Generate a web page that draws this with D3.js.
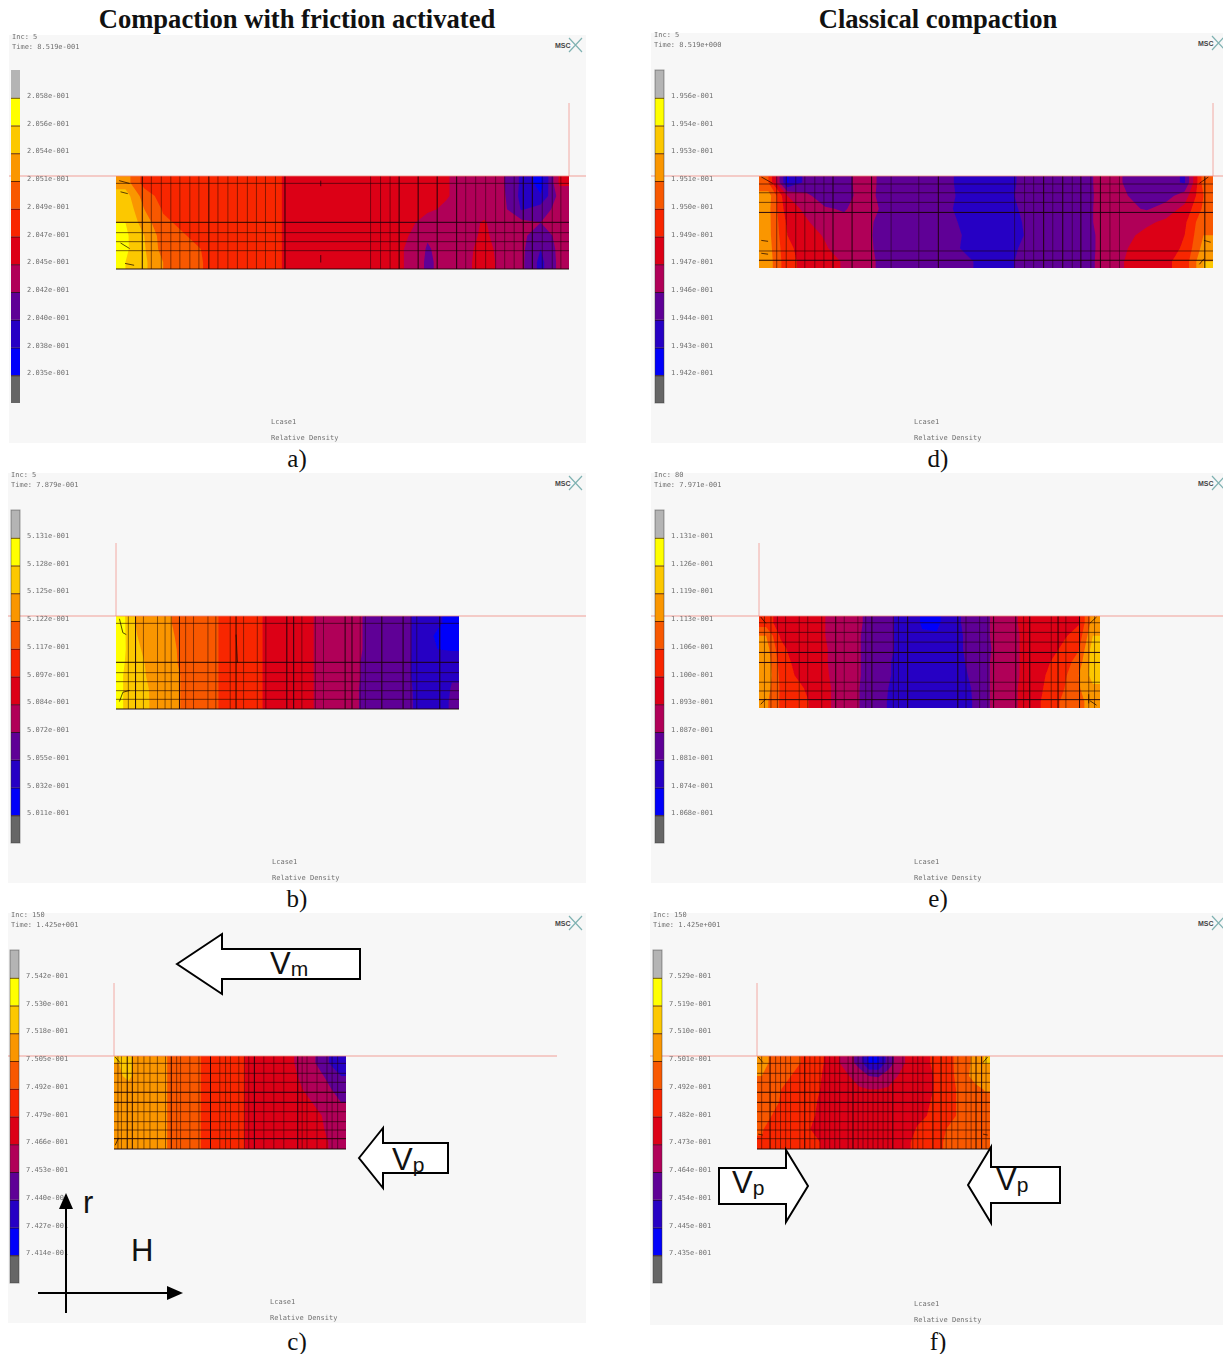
<!DOCTYPE html>
<html>
<head>
<meta charset="utf-8">
<style>
  html, body { margin: 0; background: #fff; }
  svg { display: block; }
  .axis path { display: none; }
  .axis text { font-family: "DejaVu Sans Mono", monospace; font-size: 7px; fill: #707070; }
  .axis line { stroke: #2a0a00; stroke-opacity: 0.7; }
</style>
<script src="https://cdn.jsdelivr.net/npm/d3@7"></script>
</head>
<body>
<svg id="chart" width="1223" height="1354"></svg>
<script>
// legend levels, top to bottom of the colour bar: index = contour level
const levelColors = ['#666666', '#0000fa', '#2800c4', '#5e0096', '#b00058', '#dc0016',
  '#f82800', '#f85800', '#fa9600', '#fcc800', '#ffff00', '#b4b4b4'];

const titles = ['Compaction with friction activated', 'Classical compaction'];
const captions = ['a)', 'b)', 'c)', 'd)', 'e)', 'f)'];
const incLabels = ['Inc:  5', 'Inc:  5', 'Inc:  150', 'Inc:  5', 'Inc:  80', 'Inc:  150'];
const timeLabels = ['Time:  8.519e-001', 'Time:  7.879e-001', 'Time:  1.425e+001',
  'Time:  8.519e+000', 'Time:  7.971e-001', 'Time:  1.425e+001'];

// colour bar labels
const ticksA = ['2.058e-001', '2.056e-001', '2.054e-001', '2.051e-001', '2.049e-001', '2.047e-001', '2.045e-001', '2.042e-001', '2.040e-001', '2.038e-001', '2.035e-001'];
const ticksB = ['5.131e-001', '5.128e-001', '5.125e-001', '5.122e-001', '5.117e-001', '5.097e-001', '5.084e-001', '5.072e-001', '5.055e-001', '5.032e-001', '5.011e-001'];
const ticksC = ['7.542e-001', '7.530e-001', '7.518e-001', '7.505e-001', '7.492e-001', '7.479e-001', '7.466e-001', '7.453e-001', '7.440e-001', '7.427e-001', '7.414e-001'];
const ticksD = ['1.956e-001', '1.954e-001', '1.953e-001', '1.951e-001', '1.950e-001', '1.949e-001', '1.947e-001', '1.946e-001', '1.944e-001', '1.943e-001', '1.942e-001'];
const ticksE = ['1.131e-001', '1.126e-001', '1.119e-001', '1.113e-001', '1.106e-001', '1.100e-001', '1.093e-001', '1.087e-001', '1.081e-001', '1.074e-001', '1.068e-001'];
const ticksF = ['7.529e-001', '7.519e-001', '7.510e-001', '7.501e-001', '7.492e-001', '7.482e-001', '7.473e-001', '7.464e-001', '7.454e-001', '7.445e-001', '7.435e-001'];

// contour level, 24 columns x 7 rows, top row first
const fieldA = [
  [8.5, 6.6, 6.5, 6.5, 6.5, 6.5, 6.4, 6.3, 6.2, 5.5, 5.5, 5.5, 5.5, 5.5, 5.5, 5.4, 5.4, 5.1, 4.5, 4.4, 4.1, 2.8, 1.5, 5.2],
  [9.5, 7.5, 6.6, 6.5, 6.5, 6.5, 6.4, 6.3, 6.2, 5.5, 5.5, 5.5, 5.5, 5.5, 5.5, 5.4, 5.4, 5.1, 4.5, 4.4, 4.2, 2.7, 2.1, 4.4],
  [9.8, 8.0, 6.9, 6.5, 6.5, 6.5, 6.4, 6.3, 6.2, 5.5, 5.5, 5.5, 5.5, 5.5, 5.5, 5.4, 5.2, 4.8, 4.5, 4.6, 4.3, 2.9, 3.5, 4.4],
  [10.0, 8.5, 7.2, 6.8, 6.4, 6.4, 6.4, 6.3, 6.2, 5.5, 5.5, 5.5, 5.5, 5.5, 5.4, 5.3, 4.5, 4.4, 4.6, 5.1, 4.4, 4.3, 4.0, 4.3],
  [10.2, 9.0, 7.5, 7.1, 6.7, 6.3, 6.3, 6.3, 6.2, 5.5, 5.5, 5.5, 5.5, 5.5, 5.3, 5.0, 4.1, 4.4, 4.6, 5.2, 4.5, 4.2, 3.5, 4.3],
  [10.2, 9.1, 7.6, 7.3, 7.0, 6.5, 6.3, 6.3, 6.2, 5.5, 5.5, 5.5, 5.5, 5.5, 5.3, 4.9, 3.9, 4.4, 4.6, 5.5, 4.5, 4.2, 3.0, 4.3],
  [10.0, 9.2, 8.0, 7.5, 7.05, 6.6, 6.3, 6.3, 6.2, 5.5, 5.5, 5.5, 5.5, 5.5, 5.3, 4.9, 3.8, 4.4, 4.6, 5.7, 4.5, 4.2, 2.7, 4.3]
];
const fieldB = [
  [10.2, 8.8, 8.5, 8.2, 7.7, 7.4, 7.2, 6.9, 6.6, 6.3, 5.9, 5.7, 5.5, 5.2, 4.6, 4.5, 4.3, 3.9, 3.6, 3.5, 3.1, 2.5, 2.2, 1.6],
  [10.2, 9.0, 8.6, 8.3, 7.8, 7.4, 7.2, 6.9, 6.6, 6.3, 5.9, 5.7, 5.5, 5.2, 4.6, 4.5, 4.3, 3.9, 3.6, 3.5, 3.1, 2.5, 1.8, 1.4],
  [10.2, 9.1, 8.7, 8.3, 7.9, 7.4, 7.2, 6.9, 6.6, 6.3, 5.9, 5.7, 5.5, 5.2, 4.6, 4.5, 4.3, 3.9, 3.6, 3.5, 3.1, 2.5, 2.0, 1.9],
  [10.1, 9.2, 8.8, 8.4, 7.9, 7.5, 7.2, 6.9, 6.6, 6.3, 5.9, 5.7, 5.5, 5.2, 4.6, 4.5, 4.3, 3.8, 3.6, 3.5, 3.1, 2.4, 2.1, 2.7],
  [10.0, 9.3, 8.8, 8.4, 8.0, 7.5, 7.2, 6.9, 6.6, 6.3, 5.9, 5.7, 5.5, 5.2, 4.6, 4.5, 4.3, 3.8, 3.6, 3.5, 3.1, 2.4, 2.1, 2.9],
  [10.0, 9.4, 8.9, 8.4, 8.0, 7.5, 7.2, 6.9, 6.6, 6.3, 5.9, 5.7, 5.5, 5.2, 4.6, 4.5, 4.3, 3.7, 3.6, 3.5, 3.2, 2.4, 2.2, 3.1],
  [10.0, 9.5, 8.9, 8.4, 8.0, 7.5, 7.2, 6.9, 6.6, 6.3, 5.9, 5.7, 5.5, 5.2, 4.6, 4.5, 4.3, 3.7, 3.6, 3.5, 3.2, 2.5, 2.3, 3.2]
];
const fieldC = [
  [9.0, 9.3, 8.5, 8.3, 8.2, 8.0, 7.4, 7.3, 7.1, 6.9, 6.3, 6.2, 6.1, 6.0, 5.8, 5.6, 5.4, 5.3, 5.1, 4.4, 4.2, 3.6, 2.8, 2.0],
  [8.8, 9.3, 8.4, 8.3, 8.2, 8.0, 7.4, 7.3, 7.1, 6.9, 6.3, 6.2, 6.1, 6.0, 5.8, 5.6, 5.4, 5.3, 5.2, 4.8, 4.3, 4.1, 3.6, 3.0],
  [8.6, 8.5, 8.4, 8.3, 8.2, 8.0, 7.4, 7.3, 7.1, 6.9, 6.3, 6.2, 6.1, 6.0, 5.8, 5.6, 5.4, 5.3, 5.2, 5.0, 4.7, 4.3, 4.0, 3.7],
  [8.5, 8.5, 8.4, 8.3, 8.2, 8.0, 7.4, 7.3, 7.1, 6.9, 6.3, 6.2, 6.1, 6.0, 5.8, 5.6, 5.4, 5.3, 5.2, 5.2, 5.0, 4.6, 4.2, 4.0],
  [8.5, 8.5, 8.4, 8.3, 8.2, 8.0, 7.4, 7.3, 7.1, 6.9, 6.3, 6.2, 6.1, 6.0, 5.8, 5.6, 5.4, 5.3, 5.3, 5.3, 5.2, 5.0, 4.5, 4.2],
  [8.5, 8.5, 8.4, 8.3, 8.2, 8.0, 7.4, 7.3, 7.1, 6.9, 6.3, 6.2, 6.1, 6.0, 5.8, 5.6, 5.4, 5.3, 5.3, 5.3, 5.2, 5.1, 4.7, 4.4],
  [8.4, 8.5, 8.4, 8.3, 8.2, 8.0, 7.4, 7.3, 7.1, 6.9, 6.3, 6.2, 6.1, 6.0, 5.8, 5.6, 5.4, 5.3, 5.4, 5.4, 5.3, 5.2, 4.9, 4.5]
];
const fieldD = [
  [7.0, 1.9, 3.3, 3.4, 3.6, 4.5, 3.8, 3.4, 3.4, 3.4, 2.9, 2.4, 2.4, 2.95, 3.4, 3.4, 3.5, 3.9, 4.5, 3.8, 3.4, 3.3, 2.9, 7.5],
  [8.5, 5.0, 4.2, 3.5, 3.6, 4.4, 3.8, 3.4, 3.4, 3.4, 2.95, 2.4, 2.4, 3.0, 3.4, 3.4, 3.5, 3.9, 4.4, 4.0, 3.6, 3.6, 4.5, 7.0],
  [8.3, 5.4, 4.8, 4.1, 3.9, 4.5, 3.9, 3.4, 3.4, 3.3, 2.9, 2.3, 2.3, 2.9, 3.4, 3.4, 3.4, 3.9, 4.5, 4.2, 3.9, 4.4, 5.3, 7.2],
  [8.3, 5.8, 5.1, 4.5, 4.3, 4.5, 3.6, 3.4, 3.4, 3.3, 3.0, 2.3, 2.3, 2.8, 3.3, 3.4, 3.5, 3.9, 4.5, 4.6, 4.8, 5.2, 5.8, 7.8],
  [8.3, 6.0, 5.4, 4.9, 4.5, 4.5, 3.5, 3.4, 3.4, 3.4, 3.2, 2.3, 2.3, 2.7, 3.3, 3.4, 3.4, 3.8, 4.5, 4.8, 5.3, 5.5, 6.0, 8.0],
  [8.4, 6.2, 5.6, 5.1, 4.5, 4.5, 3.6, 3.4, 3.4, 3.4, 3.1, 2.3, 2.3, 2.9, 3.4, 3.4, 3.5, 3.8, 4.5, 5.0, 5.4, 5.7, 6.1, 8.4],
  [8.5, 6.3, 5.7, 5.4, 4.9, 4.4, 3.8, 3.4, 3.4, 3.4, 3.5, 2.9, 2.3, 3.0, 3.4, 3.5, 3.7, 3.8, 4.6, 5.1, 5.5, 5.8, 6.4, 9.0]
];
const fieldE = [
  [6.5, 5.5, 5.5, 5.3, 5.1, 4.5, 4.4, 3.9, 3.4, 3.0, 2.5, 1.9, 1.8, 2.5, 3.2, 3.4, 4.2, 4.5, 5.2, 5.4, 5.5, 5.6, 5.9, 8.5],
  [8.0, 5.9, 5.5, 5.3, 5.1, 4.5, 4.4, 3.8, 3.4, 3.0, 2.3, 2.1, 2.1, 2.4, 3.1, 3.4, 4.2, 4.5, 5.1, 5.3, 5.6, 5.9, 6.4, 9.0],
  [8.5, 6.3, 5.6, 5.3, 5.2, 4.6, 4.4, 3.8, 3.4, 3.0, 2.2, 2.1, 2.1, 2.4, 3.1, 3.4, 4.1, 4.5, 5.1, 5.3, 5.7, 6.2, 6.9, 9.5],
  [8.7, 6.6, 5.8, 5.5, 5.2, 4.6, 4.4, 3.8, 3.4, 2.9, 2.1, 2.0, 2.0, 2.2, 3.0, 3.4, 4.2, 4.5, 5.1, 5.5, 6.0, 6.5, 7.5, 9.5],
  [8.8, 6.8, 6.0, 5.7, 5.3, 4.6, 4.4, 3.8, 3.4, 2.9, 2.1, 2.0, 2.0, 2.0, 2.9, 3.4, 4.2, 4.5, 5.1, 5.6, 6.2, 6.8, 8.0, 9.4],
  [8.5, 6.9, 6.2, 5.9, 5.4, 4.7, 4.4, 3.7, 3.3, 2.8, 2.1, 2.0, 2.0, 2.0, 2.7, 3.4, 4.2, 4.5, 5.2, 5.7, 6.3, 7.0, 7.9, 8.8],
  [8.2, 6.9, 6.3, 6.0, 5.4, 4.7, 4.4, 3.7, 3.3, 2.7, 2.1, 2.0, 2.0, 2.0, 2.6, 3.4, 4.2, 4.5, 5.2, 5.8, 6.4, 7.3, 7.8, 8.3]
];
const fieldF = [
  [8.9, 7.6, 7.2, 7.1, 7.0, 6.8, 6.3, 5.5, 5.0, 4.4, 3.6, 1.9, 1.9, 3.4, 4.4, 5.2, 5.6, 5.9, 6.2, 6.7, 7.1, 7.6, 8.4, 9.1],
  [8.0, 7.5, 7.1, 7.0, 6.9, 6.6, 6.1, 5.5, 5.1, 5.0, 4.6, 4.0, 3.9, 4.5, 5.0, 5.2, 5.5, 5.8, 6.1, 6.6, 7.1, 7.7, 8.6, 8.2],
  [7.5, 7.4, 7.0, 6.9, 6.7, 6.4, 6.0, 5.6, 5.3, 5.2, 5.1, 5.0, 5.0, 5.1, 5.1, 5.2, 5.5, 5.8, 6.1, 6.6, 7.0, 7.2, 7.6, 8.1],
  [7.4, 7.3, 6.9, 6.7, 6.4, 6.2, 5.9, 5.7, 5.4, 5.2, 5.1, 5.1, 5.1, 5.1, 5.1, 5.3, 5.6, 5.9, 6.2, 6.6, 7.0, 7.1, 7.3, 7.6],
  [7.3, 7.0, 6.7, 6.4, 6.2, 6.1, 5.9, 5.7, 5.5, 5.3, 5.1, 5.1, 5.1, 5.1, 5.2, 5.4, 5.7, 6.0, 6.4, 6.8, 7.0, 7.1, 7.2, 7.5],
  [7.1, 6.6, 6.3, 6.2, 6.1, 6.0, 5.9, 5.8, 5.6, 5.4, 5.2, 5.1, 5.1, 5.2, 5.3, 5.5, 6.1, 6.3, 6.6, 7.0, 7.1, 7.1, 7.2, 7.4],
  [6.9, 6.4, 6.2, 6.1, 6.1, 6.1, 6.0, 5.9, 5.8, 5.5, 5.3, 5.2, 5.2, 5.3, 5.4, 5.9, 6.2, 6.5, 6.8, 7.1, 7.1, 7.2, 7.3, 7.4]
];

// mesh lines, % along H (vertical lines) and % along r (horizontal lines)
const meshVA = [5.8, 7.8, 10.0, 12.1, 14.1, 16.3, 18.3, 20.5, 22.5, 24.7, 26.8, 29.0, 31.0, 33.0, 35.2, 37.3, 56.2, 58.4, 60.5, 62.5, 66.7, 70.9, 75.2, 77.2, 79.4, 81.6, 83.8, 85.8, 87.9, 89.9, 91.9, 94.1, 96.3, 98.2];
const heavyVA = [5.8, 20.5, 37.3, 62.5, 66.7, 70.9, 75.2, 89.9, 91.9];
const meshHA = [7.9, 49.8, 60.9, 70.6, 80.3, 100];
const heavyHA = [49.8, 100];

const meshVB = [3.6, 5.7, 8.0, 12.1, 14.3, 16.1, 18.5, 20.3, 22.6, 26.8, 29.1, 33.3, 35.0, 37.2, 41.2, 43.7, 49.8, 51.8, 54.2, 58.1, 60.5, 66.8, 68.8, 71.2, 72.7, 77.5, 83.7, 86.0, 87.7, 94.4];
const heavyVB = [5.7, 18.5, 35.0, 49.8, 51.8, 66.8, 68.8, 77.5, 83.7, 94.4];
const meshHB = [7.9, 49.8, 60.9, 70.6, 80.3, 89.6, 100];
const heavyHB = [49.8, 100];

const meshVC = [1.7, 3.2, 5.7, 7.9, 10.3, 12.9, 15.5, 18.7, 22.2, 24.7, 27, 28.7, 32.7, 36.6, 41.6, 45.6, 48.1, 50.2, 53.8, 56.2, 58.1, 60.5, 64.6, 68.9, 73.2, 79.2, 81.1, 83.2, 87.5, 91.8, 94, 96.4];
const heavyVC = [5.7, 7.9, 24.7, 41.6, 60.5, 79.2];
const meshHC = [7.9, 18.6, 28.3, 39, 49.8, 59.9, 70.6, 79.6, 88.9, 100];
const heavyHC = [39, 49.8, 88.9, 100];

const meshVD = [3.9, 6.0, 8.1, 10.1, 12.3, 14.3, 16.3, 20.5, 24.8, 29.1, 35.2, 39.5, 56.3, 58.5, 60.5, 62.7, 64.7, 66.9, 69.0, 70.9, 73.1, 75.2, 77.3, 79.4, 98.2];
const heavyVD = [16.3, 20.5, 24.8, 39.5, 62.7, 66.9, 70.9, 75.2, 98.2];
const meshHD = [8.7, 18.2, 28.7, 39.6, 81.5, 91.6];
const heavyHD = [39.6, 91.6];

const meshVE = [1.6, 3.5, 5.4, 7.8, 11.8, 14.3, 18.4, 22.5, 25, 29, 31.3, 33.1, 39.4, 40.9, 43.6, 58.3, 60.7, 64.7, 67.1, 68.8, 75.3, 77.6, 79.4, 85.7, 87.7, 90, 94, 96.7, 98.4];
const heavyVE = [22.5, 33.1, 43.6, 58.3, 68.8, 75.3, 79.4, 87.7, 94];
const meshHE = [7.3, 17.8, 28.4, 39.6, 50.5, 72, 81.5, 90.9];
const heavyHE = [39.6, 50.5, 90.9];

const meshVF = [2, 5.6, 8, 10.1, 12.3, 14.4, 18.4, 20.5, 22.7, 24.8, 27, 29.1, 31.2, 33.4, 35.5, 39.1, 41.2, 43.4, 45.5, 47.6, 49.8, 51.9, 54.1, 56.2, 58.3, 62.6, 66.9, 69, 71.2, 75.5, 79, 81.2, 83.6, 86.2, 89.7, 91.9, 94, 96.4, 98.3];
const heavyVF = [5.6, 20.5, 41.2, 58.3, 75.5, 79, 94, 96.4];
const meshHF = [7.9, 18.6, 28.3, 39, 49.8, 59.9, 70.6, 79.6, 88.9, 100];
const heavyHF = [39, 49.8, 100];

// short mesh edges near the corners: x1, y1, x2, y2 in %
const stubsA = [[0.7, 5, 3, 8], [1, 17, 2.6, 19], [1, 72, 3, 78], [2, 94, 4, 96], [45.2, 5, 45.2, 11], [45.2, 85, 45.2, 93]];
const stubsB = [[1, 3, 2, 18], [2, 18, 3, 20], [1, 92, 2, 82], [2, 82, 4, 80], [35, 20, 35.4, 50]];
const stubsC = [[0.5, 96, 2, 88], [0.5, 1, 2.5, 7]];
const stubsD = [[0.5, 1, 3, 8], [0.5, 70, 2, 71], [0.5, 84, 2, 85], [97, 8, 99, 1], [98, 70, 99.5, 72], [97, 96, 98, 90]];
const stubsE = [[0.5, 1, 2, 8], [0.5, 96, 2, 90], [97, 8, 99, 1], [97, 92, 99, 97], [96.7, 85, 96.7, 95]];
const stubsF = [[0.5, 1, 2.5, 7], [0.5, 84, 2.5, 85], [97, 84, 99, 85], [97, 7, 99, 1]];

// panel frames and where the part sits in them
const panels = [
  { field: fieldA, ticks: ticksA, meshV: meshVA, heavyV: heavyVA, meshH: meshHA, heavyH: heavyHA, stubs: stubsA, frame: [9, 35, 586, 443], part: [116, 176, 569, 269], bar: 11, pin: 569, lineEnd: 586, note: 271, cap: 467 },
  { field: fieldB, ticks: ticksB, meshV: meshVB, heavyV: heavyVB, meshH: meshHB, heavyH: heavyHB, stubs: stubsB, frame: [8, 473, 586, 883], part: [116, 616, 459, 709], bar: 11, pin: 116, lineEnd: 586, note: 272, cap: 907 },
  { field: fieldC, ticks: ticksC, meshV: meshVC, heavyV: heavyVC, meshH: meshHC, heavyH: heavyHC, stubs: stubsC, frame: [8, 913, 586, 1323], part: [114, 1056, 346, 1149], bar: 10, pin: 114, lineEnd: 557, note: 270, cap: 1350 },
  { field: fieldD, ticks: ticksD, meshV: meshVD, heavyV: heavyVD, meshH: meshHD, heavyH: heavyHD, stubs: stubsD, frame: [651, 33, 1223, 443], part: [759, 176, 1213, 268], bar: 655, pin: 1213, lineEnd: 1223, note: 914, cap: 467 },
  { field: fieldE, ticks: ticksE, meshV: meshVE, heavyV: heavyVE, meshH: meshHE, heavyH: heavyHE, stubs: stubsE, frame: [651, 473, 1223, 883], part: [759, 616, 1100, 708], bar: 655, pin: 759, lineEnd: 1223, note: 914, cap: 907 },
  { field: fieldF, ticks: ticksF, meshV: meshVF, heavyV: heavyVF, meshH: meshHF, heavyH: heavyHF, stubs: stubsF, frame: [650, 913, 1223, 1325], part: [757, 1056, 990, 1149], bar: 653, pin: 757, lineEnd: 1223, note: 914, cap: 1350 }
];

const svg = d3.select('#chart');

const defs = svg.append('defs');
defs.append('filter').attr('id', 'soft').append('feGaussianBlur').attr('stdDeviation', 0.45);
defs.append('filter').attr('id', 'softer').append('feGaussianBlur').attr('stdDeviation', 0.4);

// edge values repeated once, otherwise d3.contours cuts the corners off
const contours = d3.contours().size([26, 9]).thresholds(d3.range(0, 12));
const padField = (rows) => {
  const wide = rows.map((r) => [r[0], ...r, r[r.length - 1]]);
  return [wide[0], ...wide, wide[wide.length - 1]].flat();
};

panels.forEach((p, i) => {
  const [fx0, fy0, fx1, fy1] = p.frame;
  const [px0, py0, px1, py1] = p.part;
  const g = svg.append('g');

  g.append('rect')
    .attr('x', fx0).attr('y', fy0)
    .attr('width', fx1 - fx0).attr('height', fy1 - fy0)
    .attr('fill', '#f7f7f7');

  defs.append('clipPath').attr('id', `part${i}`)
    .append('rect')
    .attr('x', px0).attr('y', py0)
    .attr('width', px1 - px0).attr('height', py1 - py0);

  // 색 구간 (contour bands)
  const gx = d3.scaleLinear().domain([1, 25]).range([px0, px1]);
  const gy = d3.scaleLinear().domain([1, 8]).range([py0, py1]);
  const path = d3.geoPath(d3.geoTransform({
    point(x, y) { this.stream.point(gx(x), gy(y)); }
  }));
  const body = g.append('g').attr('filter', 'url(#soft)');
  const clipped = body.append('g').attr('clip-path', `url(#part${i})`);

  clipped.selectAll('path.band')
    .data(contours(padField(p.field)))
    .enter()
    .append('path')
    .attr('class', 'band')
    .attr('d', path)
    .attr('fill', (d) => levelColors[d.value]);

  // mesh
  const mx = d3.scaleLinear().domain([0, 100]).range([px0, px1]);
  const my = d3.scaleLinear().domain([0, 100]).range([py0, py1]);
  const meshColor = '#1c0408';

  body.selectAll('line.v')
    .data(p.meshV)
    .enter()
    .append('line')
    .attr('class', 'v')
    .attr('x1', (d) => mx(d)).attr('x2', (d) => mx(d))
    .attr('y1', py0).attr('y2', py1)
    .attr('stroke', meshColor)
    .attr('stroke-opacity', (d) => (p.heavyV.includes(d) ? 0.95 : 0.5));

  body.selectAll('line.h')
    .data(p.meshH)
    .enter()
    .append('line')
    .attr('class', 'h')
    .attr('x1', px0).attr('x2', px1)
    .attr('y1', (d) => my(d)).attr('y2', (d) => my(d))
    .attr('stroke', meshColor)
    .attr('stroke-opacity', (d) => (p.heavyH.includes(d) ? 0.95 : 0.6));

  body.selectAll('line.stub')
    .data(p.stubs)
    .enter()
    .append('line')
    .attr('class', 'stub')
    .attr('x1', (d) => mx(d[0])).attr('y1', (d) => my(d[1]))
    .attr('x2', (d) => mx(d[2])).attr('y2', (d) => my(d[3]))
    .attr('stroke', '#120204')
    .attr('stroke-opacity', 0.7);

  // die lines, on the pixel edge so they stay soft and pink
  g.append('line')
    .attr('x1', fx0).attr('x2', p.lineEnd)
    .attr('y1', py0).attr('y2', py0)
    .attr('stroke', '#f08a80')
    .attr('stroke-opacity', 0.8);
  g.append('line')
    .attr('x1', p.pin).attr('x2', p.pin)
    .attr('y1', py0 - 73).attr('y2', py0)
    .attr('stroke', '#f08a80')
    .attr('stroke-opacity', 0.7);

  // colour bar
  const barTop = fy0 + (i === 3 ? 37 : i === 0 ? 35 : 37);
  const bandH = 27.75;
  const barY = d3.scaleBand()
    .domain(d3.range(11, -1, -1))
    .range([barTop, barTop + bandH * 12]);

  g.selectAll('rect.key')
    .data(d3.range(12))
    .enter()
    .append('rect')
    .attr('class', 'key')
    .attr('x', p.bar)
    .attr('y', (d) => barY(d))
    .attr('width', 9)
    .attr('height', barY.bandwidth())
    .attr('fill', (d) => levelColors[d])
    .attr('filter', 'url(#softer)');

  if (i !== 0) {
    g.append('rect')
      .attr('x', p.bar).attr('y', barTop)
      .attr('width', 9).attr('height', bandH * 12)
      .attr('fill', 'none')
      .attr('stroke', '#333')
      .attr('stroke-opacity', 0.45);
  }

  const tickScale = d3.scaleLinear()
    .domain([0, 10])
    .range([barTop + bandH, barTop + bandH * 11]);
  const axis = d3.axisRight(tickScale)
    .tickValues(d3.range(11))
    .tickFormat((d) => p.ticks[d])
    .tickSize(-9)
    .tickPadding(7);
  const axisG = g.append('g')
    .attr('class', 'axis')
    .attr('transform', `translate(${p.bar + 9},0)`)
    .attr('filter', 'url(#softer)')
    .call(axis);
  axisG.selectAll('text').attr('dy', '-0.05em');

  // small solver text
  const small = g.append('g')
    .attr('font-family', '"DejaVu Sans Mono", monospace')
    .attr('font-size', 7)
    .attr('fill', '#707070')
    .attr('filter', 'url(#softer)');
  small.append('text').attr('x', fx0 + 3).attr('y', fy0 + 4).text(incLabels[i]);
  small.append('text').attr('x', fx0 + 3).attr('y', fy0 + 14).text(timeLabels[i]);
  small.append('text').attr('x', p.note).attr('y', fy1 - 19).text('Lcase1');
  small.append('text').attr('x', p.note).attr('y', fy1 - 3).text('Relative Density');

  // MSC mark
  const logoX = i < 3 ? 555 : 1198;
  g.append('text')
    .attr('x', logoX).attr('y', fy0 + 13)
    .attr('font-family', '"Liberation Sans", sans-serif')
    .attr('font-size', 7).attr('font-weight', 'bold')
    .attr('fill', '#444')
    .text('MSC');
  g.append('path')
    .attr('d', d3.line()([[logoX + 14, fy0 + 3], [logoX + 27, fy0 + 17]]) + d3.line()([[logoX + 14, fy0 + 17], [logoX + 27, fy0 + 3]]))
    .attr('fill', 'none')
    .attr('stroke', '#7fb2b2')
    .attr('stroke-width', 1.2);

  svg.append('text')
    .attr('x', i < 3 ? 297 : 938).attr('y', p.cap)
    .attr('text-anchor', 'middle')
    .attr('font-family', '"Liberation Serif", serif')
    .attr('font-size', 25)
    .attr('fill', '#111')
    .text(captions[i]);
});

titles.forEach((t, i) => {
  svg.append('text')
    .attr('x', i === 0 ? 297 : 938).attr('y', 28)
    .attr('text-anchor', 'middle')
    .attr('font-family', '"Liberation Serif", serif')
    .attr('font-weight', 'bold')
    .attr('font-size', 26.6)
    .attr('fill', '#111')
    .text(t);
});

// block arrows
const arrows = [
  { label: 'V', sub: 'm', tip: [177, 964], neck: 222, head: 30, shaft: 15, tail: 360, tx: 270, ty: 974 },
  { label: 'V', sub: 'p', tip: [359, 1158], neck: 383, head: 30, shaft: 15, tail: 448, tx: 392, ty: 1170 },
  { label: 'V', sub: 'p', tip: [808, 1186], neck: 786, head: 36, shaft: 18, tail: 719, tx: 732, ty: 1193 },
  { label: 'V', sub: 'p', tip: [968, 1185], neck: 991, head: 38, shaft: 18, tail: 1060, tx: 996, ty: 1190 }
];

arrows.forEach((a) => {
  const [tx, ty] = a.tip;
  const pts = [[tx, ty], [a.neck, ty - a.head], [a.neck, ty - a.shaft], [a.tail, ty - a.shaft],
    [a.tail, ty + a.shaft], [a.neck, ty + a.shaft], [a.neck, ty + a.head]];
  svg.append('path')
    .attr('d', d3.line()(pts) + 'Z')
    .attr('fill', '#fff')
    .attr('stroke', '#000')
    .attr('stroke-width', 2)
    .attr('stroke-linejoin', 'miter');
  const label = svg.append('text')
    .attr('x', a.tx).attr('y', a.ty)
    .attr('font-family', '"Liberation Sans", sans-serif')
    .attr('font-size', 31)
    .attr('fill', '#111')
    .text(a.label);
  label.append('tspan')
    .attr('dy', 2)
    .attr('font-size', 21)
    .text(a.sub);
});

// r / H axes
const axisMarks = svg.append('g').attr('stroke', '#000').attr('stroke-width', 2);
axisMarks.append('line').attr('x1', 66).attr('x2', 66).attr('y1', 1205).attr('y2', 1313);
axisMarks.append('line').attr('x1', 38).attr('x2', 170).attr('y1', 1293).attr('y2', 1293);
svg.append('path').attr('d', d3.line()([[66, 1193], [59, 1209], [73, 1209]]) + 'Z').attr('fill', '#000');
svg.append('path').attr('d', d3.line()([[183, 1293], [167, 1286], [167, 1300]]) + 'Z').attr('fill', '#000');
svg.append('text').attr('x', 83).attr('y', 1213).attr('font-family', '"Liberation Sans", sans-serif').attr('font-size', 31).attr('fill', '#111').text('r');
svg.append('text').attr('x', 131).attr('y', 1261).attr('font-family', '"Liberation Sans", sans-serif').attr('font-size', 31).attr('fill', '#111').text('H');
</script>
</body>
</html>
